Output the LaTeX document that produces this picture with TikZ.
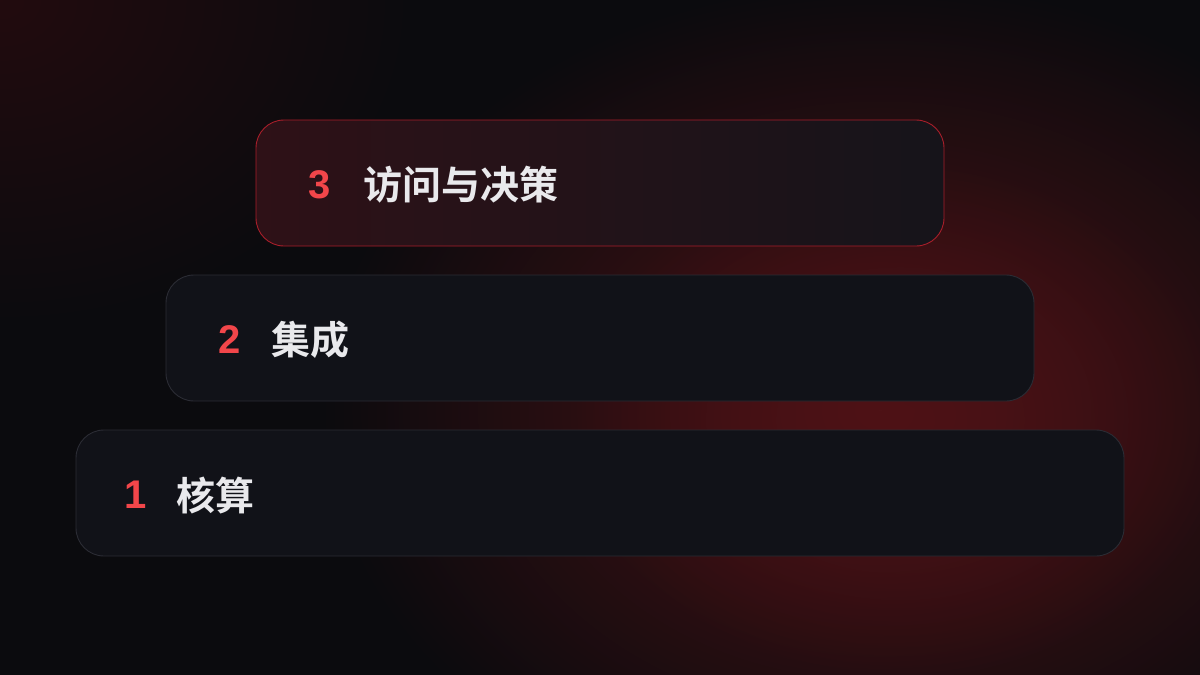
\documentclass[tikz,border=0pt]{standalone}
\usepackage{fontspec}
\newfontfamily\cjk{Noto Sans CJK SC}[BoldFont={Noto Sans CJK SC Bold}]
\newfontfamily\digitfont{Liberation Sans}
\usetikzlibrary{fadings}
\tikzfading[name=glowfade, inner color=transparent!0, outer color=transparent!100]
\definecolor{bgbase}{HTML}{0B0B0E}
\definecolor{glow}{HTML}{4E1216}
\definecolor{glowtl}{HTML}{2A0C0E}
\definecolor{boxfill}{HTML}{111218}
\definecolor{boxline}{HTML}{2B2C34}
\definecolor{hlline}{HTML}{A81E2A}
\definecolor{hlleft}{HTML}{2E1117}
\definecolor{hlright}{HTML}{16141A}
\definecolor{numred}{HTML}{F2464A}
\definecolor{txt}{HTML}{E9E9EC}
\tikzset{
  tier/.style={rounded corners=28pt, minimum height=126pt, inner sep=0pt, fill=boxfill, draw=boxline, line width=0.9pt},
  tierhl/.style={rounded corners=28pt, minimum height=126pt, inner sep=0pt, left color=hlleft, right color=hlright, draw=hlline, line width=0.9pt},
  num/.style={inner sep=0pt, anchor=center, text=numred, font=\digitfont\bfseries\fontsize{40}{42}\selectfont},
  lbl/.style={inner sep=0pt, anchor=west, text=txt, font=\cjk\bfseries\fontsize{39}{42}\selectfont}
}
\begin{document}
\begin{tikzpicture}[x=1pt,y=-1pt]
\useasboundingbox (0,0) rectangle (1200,675);
\fill[bgbase] (0,0) rectangle (1200,675);
\begin{scope}
\clip (0,0) rectangle (1200,675);
\fill[glow, path fading=glowfade] (880,410) ellipse (560 and 430);
\fill[glow, path fading=glowfade, opacity=0.8] (900,420) ellipse (330 and 260);
\fill[glowtl, path fading=glowfade, opacity=0.75] (0,0) ellipse (420 and 330);
\end{scope}
\node[tier, minimum width=1048pt] (t1) at (600,493) {};
\node[tier, minimum width=868pt] (t2) at (600,338) {};
\node[tierhl, minimum width=688pt] (t3) at (600,183) {};
\node[num] (n3) at ([xshift=64pt,yshift=-1.5pt]t3.west) {3};
\node[lbl] (l3) at ([xshift=108pt,yshift=-2pt]t3.west) {访问与决策};
\node[num] (n2) at ([xshift=64pt,yshift=-1.5pt]t2.west) {2};
\node[lbl] (l2) at ([xshift=106pt,yshift=-2pt]t2.west) {集成};
\node[num] (n1) at ([xshift=60pt,yshift=-1.5pt]t1.west) {1};
\node[lbl] (l1) at ([xshift=101pt,yshift=-2pt]t1.west) {核算};
\end{tikzpicture}
\end{document}
